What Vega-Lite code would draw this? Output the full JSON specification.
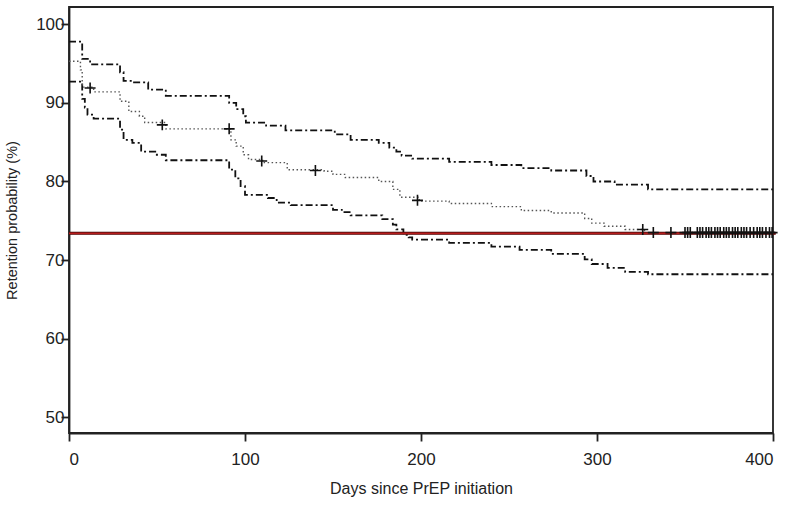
{
  "$schema": "https://vega.github.io/schema/vega-lite/v6.json",
  "autosize": "none",
  "width": 704,
  "height": 426,
  "padding": {"left": 69, "top": 7, "right": 17, "bottom": 73},
  "background": "white",
  "config": {
    "font": "Liberation Sans",
    "view": {"stroke": "#222", "strokeWidth": 1.8},
    "axis": {
      "domainColor": "#222", "domainWidth": 1.8, "tickColor": "#222", "tickWidth": 1.8,
      "tickSize": 8, "grid": false, "labelFont": "Liberation Sans", "labelFontSize": 17,
      "labelColor": "#222", "titleFont": "Liberation Sans", "titleFontWeight": "normal",
      "titleColor": "#222"
    }
  },
  "datasets": {
    "curves": [
      {"series": "upper", "day": 0, "value": 97.8},
      {"series": "upper", "day": 7.5, "value": 95.6},
      {"series": "upper", "day": 12, "value": 94.9},
      {"series": "upper", "day": 29, "value": 93.9},
      {"series": "upper", "day": 31, "value": 92.8},
      {"series": "upper", "day": 36, "value": 92.6},
      {"series": "upper", "day": 45, "value": 91.7},
      {"series": "upper", "day": 55, "value": 90.9},
      {"series": "upper", "day": 91, "value": 90.0},
      {"series": "upper", "day": 95, "value": 89.2},
      {"series": "upper", "day": 99, "value": 88.3},
      {"series": "upper", "day": 100.5, "value": 87.5},
      {"series": "upper", "day": 112, "value": 87.1},
      {"series": "upper", "day": 123, "value": 86.5},
      {"series": "upper", "day": 151, "value": 86.0},
      {"series": "upper", "day": 160, "value": 85.3},
      {"series": "upper", "day": 176, "value": 84.9},
      {"series": "upper", "day": 182, "value": 84.3},
      {"series": "upper", "day": 186, "value": 83.8},
      {"series": "upper", "day": 189, "value": 83.3},
      {"series": "upper", "day": 195, "value": 82.9},
      {"series": "upper", "day": 216, "value": 82.5},
      {"series": "upper", "day": 240, "value": 82.1},
      {"series": "upper", "day": 257, "value": 81.7},
      {"series": "upper", "day": 274, "value": 81.4},
      {"series": "upper", "day": 294, "value": 80.7},
      {"series": "upper", "day": 298, "value": 80.0},
      {"series": "upper", "day": 310, "value": 79.6},
      {"series": "upper", "day": 329, "value": 79.0},
      {"series": "upper", "day": 400, "value": 79.0},
      {"series": "lower", "day": 0, "value": 92.7},
      {"series": "lower", "day": 7.5, "value": 90.5},
      {"series": "lower", "day": 9, "value": 89.4},
      {"series": "lower", "day": 10.5, "value": 88.5},
      {"series": "lower", "day": 14, "value": 88.0},
      {"series": "lower", "day": 29, "value": 86.6},
      {"series": "lower", "day": 31, "value": 85.3},
      {"series": "lower", "day": 36, "value": 84.9},
      {"series": "lower", "day": 41, "value": 83.8},
      {"series": "lower", "day": 49, "value": 83.4},
      {"series": "lower", "day": 55, "value": 82.7},
      {"series": "lower", "day": 91, "value": 81.5},
      {"series": "lower", "day": 94.5, "value": 80.4},
      {"series": "lower", "day": 97.5, "value": 79.4},
      {"series": "lower", "day": 100, "value": 78.3},
      {"series": "lower", "day": 113, "value": 77.9},
      {"series": "lower", "day": 118, "value": 77.3},
      {"series": "lower", "day": 126, "value": 77.0},
      {"series": "lower", "day": 150, "value": 76.4},
      {"series": "lower", "day": 155, "value": 76.1},
      {"series": "lower", "day": 160, "value": 75.7},
      {"series": "lower", "day": 178, "value": 75.2},
      {"series": "lower", "day": 184, "value": 74.5},
      {"series": "lower", "day": 186, "value": 73.9},
      {"series": "lower", "day": 190, "value": 73.2},
      {"series": "lower", "day": 193, "value": 72.9},
      {"series": "lower", "day": 195, "value": 72.6},
      {"series": "lower", "day": 216, "value": 72.2},
      {"series": "lower", "day": 240, "value": 71.7},
      {"series": "lower", "day": 256, "value": 71.3},
      {"series": "lower", "day": 274, "value": 70.8},
      {"series": "lower", "day": 293, "value": 70.1},
      {"series": "lower", "day": 297, "value": 69.5},
      {"series": "lower", "day": 306, "value": 69.0},
      {"series": "lower", "day": 316, "value": 68.5},
      {"series": "lower", "day": 329, "value": 68.2},
      {"series": "lower", "day": 400, "value": 68.2},
      {"series": "estimate", "day": 0, "value": 95.3},
      {"series": "estimate", "day": 6.5, "value": 94.2},
      {"series": "estimate", "day": 7.5, "value": 92.0},
      {"series": "estimate", "day": 14, "value": 91.4},
      {"series": "estimate", "day": 29, "value": 90.2},
      {"series": "estimate", "day": 34, "value": 88.9},
      {"series": "estimate", "day": 40, "value": 88.3},
      {"series": "estimate", "day": 43, "value": 87.5},
      {"series": "estimate", "day": 55, "value": 86.7},
      {"series": "estimate", "day": 92, "value": 85.3},
      {"series": "estimate", "day": 95, "value": 84.5},
      {"series": "estimate", "day": 99, "value": 83.4},
      {"series": "estimate", "day": 102, "value": 82.8},
      {"series": "estimate", "day": 110, "value": 82.4},
      {"series": "estimate", "day": 124, "value": 81.5},
      {"series": "estimate", "day": 145, "value": 81.3},
      {"series": "estimate", "day": 150, "value": 80.9},
      {"series": "estimate", "day": 157, "value": 80.5},
      {"series": "estimate", "day": 176, "value": 80.0},
      {"series": "estimate", "day": 184, "value": 79.0},
      {"series": "estimate", "day": 188, "value": 78.0},
      {"series": "estimate", "day": 199, "value": 77.5},
      {"series": "estimate", "day": 216, "value": 77.2},
      {"series": "estimate", "day": 240, "value": 76.8},
      {"series": "estimate", "day": 257, "value": 76.3},
      {"series": "estimate", "day": 274, "value": 76.0},
      {"series": "estimate", "day": 293, "value": 75.3},
      {"series": "estimate", "day": 297, "value": 74.7},
      {"series": "estimate", "day": 304, "value": 74.3},
      {"series": "estimate", "day": 316, "value": 73.9},
      {"series": "estimate", "day": 327, "value": 73.5},
      {"series": "estimate", "day": 400, "value": 73.5}
    ],
    "censor": [
      {"day": 12, "value": 91.9},
      {"day": 53, "value": 87.2},
      {"day": 91, "value": 86.7},
      {"day": 109.5, "value": 82.6},
      {"day": 140, "value": 81.4},
      {"day": 198, "value": 77.6},
      {"day": 326, "value": 73.9},
      {"day": 332, "value": 73.5},
      {"day": 342, "value": 73.5},
      {"day": 350, "value": 73.5},
      {"day": 351.5, "value": 73.5},
      {"day": 353, "value": 73.5},
      {"day": 357, "value": 73.5},
      {"day": 358.5, "value": 73.5},
      {"day": 360, "value": 73.5},
      {"day": 362, "value": 73.5},
      {"day": 363.5, "value": 73.5},
      {"day": 365, "value": 73.5},
      {"day": 367, "value": 73.5},
      {"day": 368.5, "value": 73.5},
      {"day": 370, "value": 73.5},
      {"day": 372, "value": 73.5},
      {"day": 373.5, "value": 73.5},
      {"day": 375, "value": 73.5},
      {"day": 377, "value": 73.5},
      {"day": 378.5, "value": 73.5},
      {"day": 380, "value": 73.5},
      {"day": 382, "value": 73.5},
      {"day": 383.5, "value": 73.5},
      {"day": 385, "value": 73.5},
      {"day": 387, "value": 73.5},
      {"day": 389, "value": 73.5},
      {"day": 391, "value": 73.5},
      {"day": 392.5, "value": 73.5},
      {"day": 394, "value": 73.5},
      {"day": 396, "value": 73.5},
      {"day": 398, "value": 73.5},
      {"day": 399.5, "value": 73.5}
    ],
    "reference": [
      {"day": 0, "value": 73.4},
      {"day": 401.5, "value": 73.4}
    ]
  },
  "encoding": {
    "x": {"field": "day", "type": "quantitative",
      "scale": {"domain": [0, 400], "nice": false, "zero": false},
      "axis": {"values": [0, 100, 200, 300, 400], "title": "Days since PrEP initiation",
        "labelPadding": 10, "titleFontSize": 16, "titlePadding": 13}},
    "y": {"field": "value", "type": "quantitative",
      "scale": {"domain": [48, 102.2], "nice": false, "zero": false},
      "axis": {"values": [50, 60, 70, 80, 90, 100], "title": "Retention probability (%)",
        "labelPadding": -3, "titleFontSize": 14.5, "titlePadding": 16}}
  },
  "layer": [
    {
      "data": {"name": "curves"},
      "transform": [{"filter": "datum.series === 'upper'"}],
      "mark": {"type": "line", "interpolate": "step-after", "color": "#111", "strokeWidth": 1.8, "strokeDash": [7, 3, 2, 3]}
    },
    {
      "data": {"name": "curves"},
      "transform": [{"filter": "datum.series === 'lower'"}],
      "mark": {"type": "line", "interpolate": "step-after", "color": "#111", "strokeWidth": 1.8, "strokeDash": [7, 3, 2, 3]}
    },
    {
      "data": {"name": "curves"},
      "transform": [{"filter": "datum.series === 'estimate'"}],
      "mark": {"type": "line", "interpolate": "step-after", "color": "#555", "strokeWidth": 1.4, "strokeDash": [1.5, 2.5]}
    },
    {
      "data": {"name": "reference"},
      "mark": {"type": "line", "color": "#3a0808", "strokeWidth": 3, "clip": false}
    },
    {
      "data": {"name": "reference"},
      "mark": {"type": "line", "color": "#b81c1c", "strokeWidth": 1.7, "clip": false}
    },
    {
      "data": {"name": "censor"},
      "mark": {"type": "point", "shape": "M-1,0H1M0,-1V1", "filled": false, "color": "#111", "strokeWidth": 1.6, "size": 120, "opacity": 1}
    }
  ]
}
